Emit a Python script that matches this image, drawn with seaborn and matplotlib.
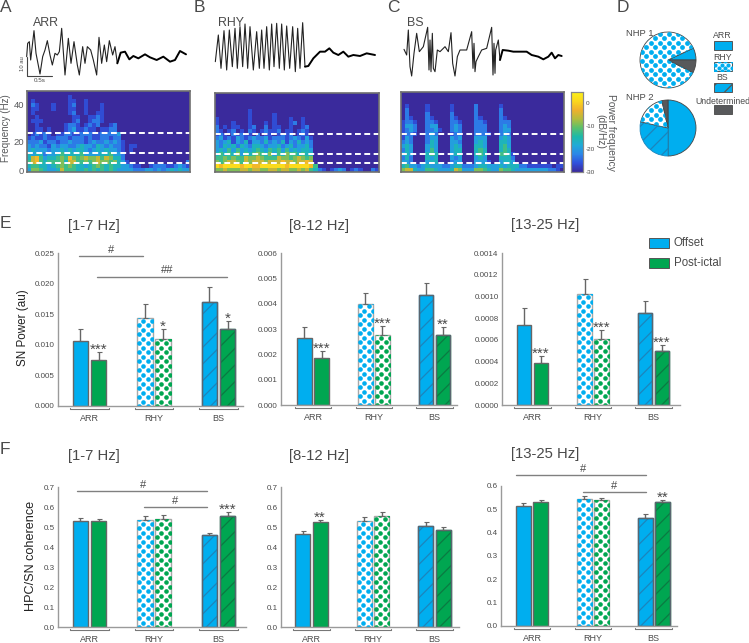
#!/usr/bin/env python
"""
Seizure states figure: LFP traces, spectrograms, state pies and band power bars
"""

import numpy as np
import pandas as pd
import matplotlib
matplotlib.use('Agg')
import matplotlib.pyplot as plt
import matplotlib.transforms as mtransforms
from matplotlib.colors import LinearSegmentedColormap
from matplotlib.patches import Rectangle
import seaborn as sns

W, H = 749, 643
BLUE = '#00AEEF'
GREEN = '#00A651'
HATCH_BLUE = '#1C85BC'
HATCH_GREEN = '#0B7A42'
GREY = '#58595B'
TEXT = '#4A4A4A'

states = ['ARR', 'RHY', 'BS']

# band power (E) and coherence (F): ARR, RHY, BS
e1_offset = [0.0107, 0.01435, 0.01703]
e1_post = [0.0075, 0.0109, 0.01255]
e1_offset_sem = [0.00185, 0.0023, 0.0024]
e1_post_sem = [0.0013, 0.00176, 0.00131]
e1_stars = ['***', '*', '*']

e2_offset = [0.00264, 0.00398, 0.00433]
e2_post = [0.00187, 0.00277, 0.00276]
e2_offset_sem = [0.00045, 0.00046, 0.0005]
e2_post_sem = [0.00028, 0.00034, 0.00033]
e2_stars = ['***', '***', '**']

e3_offset = [0.00074, 0.00102, 0.00085]
e3_post = [0.00039, 0.00061, 0.0005]
e3_offset_sem = [0.00015, 0.00014, 0.00011]
e3_post_sem = [0.00006, 0.00008, 0.00005]
e3_stars = ['***', '***', '***']

f1_offset = [0.53, 0.535, 0.46]
f1_post = [0.53, 0.54, 0.557]
f1_offset_sem = [0.013, 0.02, 0.01]
f1_post_sem = [0.01, 0.02, 0.02]
f1_stars = ['', '', '***']

f2_offset = [0.467, 0.528, 0.503]
f2_post = [0.523, 0.553, 0.483]
f2_offset_sem = [0.011, 0.022, 0.022]
f2_post_sem = [0.014, 0.022, 0.017]
f2_stars = ['**', '', '']

f3_offset = [0.513, 0.543, 0.461]
f3_post = [0.531, 0.539, 0.53]
f3_offset_sem = [0.013, 0.013, 0.018]
f3_post_sem = [0.009, 0.011, 0.009]
f3_stars = ['', '', '**']

# pies, share of seizures
nhp1_shares = [7, 85.5, 7.5]       # ARR, RHY, undetermined
nhp2_shares = [50, 28.5, 18, 3.5]  # ARR, BS, RHY, undetermined

# traces, digitised in thirds of a pixel
arr_x = [80, 83, 88, 92, 102, 108, 120, 128, 135, 142, 150, 157, 165, 172, 178, 185, 195, 205, 213, 222, 232, 238,
         248, 255, 262, 272, 280, 290, 297, 305, 313, 320, 328, 338, 345, 352]
arr_y = [170, 130, 125, 180, 92, 160, 222, 170, 150, 122, 165, 195, 160, 165, 155, 85, 225, 115, 190, 125, 195, 225,
         140, 190, 140, 150, 180, 225, 112, 190, 135, 185, 122, 165, 140, 190]
arr_tail_x = [352, 362, 375, 388, 400, 415, 435, 450, 470, 490, 510, 525, 540, 558]
arr_tail_y = [190, 158, 155, 178, 168, 175, 163, 172, 180, 170, 185, 180, 153, 163]

rhy_x = [646, 655, 663, 672, 680, 688, 697, 705, 712, 720, 728, 735, 743, 750, 760, 770, 778, 785, 792, 800, 808,
         815, 822, 830, 838, 845, 853, 860, 869, 878, 886, 893, 900, 908, 915]
rhy_y = [185, 105, 205, 92, 210, 90, 200, 85, 205, 80, 200, 72, 205, 80, 210, 95, 205, 90, 205, 80, 210, 72, 200,
         70, 205, 72, 210, 78, 205, 80, 215, 85, 205, 68, 200]
rhy_tail_x = [915, 925, 940, 960, 975, 988, 1000, 1015, 1030, 1045, 1060, 1080, 1100, 1125]
rhy_tail_y = [200, 198, 175, 155, 155, 145, 158, 165, 155, 170, 165, 168, 160, 165]

bs_x = [72, 80, 85, 90, 95, 102, 110, 118, 130, 143, 147, 150, 153, 157, 160, 165, 172, 180, 195, 205, 213, 218, 225,
        232, 240, 260, 275, 279, 282, 285, 288, 295, 305, 320, 335, 339, 342, 345, 347, 355, 360]
bs_y = [148, 165, 90, 200, 228, 160, 100, 155, 140, 82, 210, 120, 215, 100, 205, 215, 150, 155, 140, 155, 98, 190, 228,
        170, 150, 150, 95, 205, 130, 215, 185, 170, 150, 145, 82, 225, 130, 220, 150, 120, 180]
bs_tail_x = [360, 368, 385, 400, 420, 440, 455, 475, 490, 505, 515, 525, 535, 545]
bs_tail_y = [180, 150, 152, 155, 155, 155, 165, 170, 178, 170, 158, 175, 165, 168]

# spectrograms, one string per frequency row (top row first), levels 0-9, right side padded with 0
arr_spec = [
    "",
    "0000000000100000",
    "0100000000110010",
    "0210001000120010001",
    "0110001000110010001",
    "0100000000120010011",
    "0010000000011001121",
    "0111000000012001221",
    "0010000001221012120012",
    "0011010001231121101122",
    "01212101122112221122223",
    "12112112221222121122122",
    "222312212232221232232321",
    "3232213233223433243232210110",
    "3433323343434432343433210100",
    "4344233454444533334453320",
    "4785344565865676675764420",
    "5785455564775565676656431000000000000002",
    "4554434565654434565454433211001222112321",
    "3665433475554454545454333322233232343433",
]
rhy_spec = [
    "",
    "",
    "",
    "",
    "0000000010000000000",
    "00000000100000100",
    "10000000100000100010010",
    "10001000100010100012010",
    "20101100120020110010012",
    "21012010210121120110121",
    "12102121102011012120121",
    "231213212322312221232131",
    "323413241332423241324232",
    "324342432443233423423342",
    "343535343454354535343443",
    "454546354565463546554544",
    "556565576676555766567656",
    "656776576777677787767787",
    "9899998998899999989999985",
    "6676667767766776776676754210123201210021",
]
bs_spec = [
    "",
    "",
    "",
    "01000010000010000020000010",
    "02000010000010000020000020",
    "02000020000020000020000020",
    "02100021000021000021000021",
    "12210022100022100022100022200",
    "13320023300023200022200023200",
    "12320022310023200022200023300",
    "12210023200012200022210023200",
    "13200023300032300033300034300",
    "23200024300033200034300044300",
    "34300034300034300044300045300",
    "24300035300034400045400045400",
    "34300045400034400045400055410",
    "24200043400032300034300044420",
    "33200034400023300033310034430",
    "4533234333223442223443334344422111111011",
    "6774335543334763336654336554333333332210",
]

band_edges = [6, 12, 25]


def ax_px(x0, y_top, x1, y_bot, **kwargs):
    """Axes from pixel box, y counted from the top of the figure"""
    return fig.add_axes([x0 / W, 1 - y_bot / H, (x1 - x0) / W, (y_bot - y_top) / H], **kwargs)


def dot_fill(ax, patch, color, spacing=9, size=11):
    """Polka dots clipped to a patch, since the built-in hatches are too small"""
    box = patch.get_window_extent()
    rows = np.arange(box.y0 - spacing, box.y1 + spacing, spacing / 2)
    xs, ys = [], []
    for i, y in enumerate(rows):
        start = box.x0 + spacing * 0.2 + (spacing / 2 if i % 2 else 0) - spacing
        for x in np.arange(start, box.x1 + spacing, spacing):
            xs.append(x)
            ys.append(y)
    dots = ax.scatter(xs, ys, s=size, color=color, linewidths=0,
                      transform=mtransforms.IdentityTransform(), zorder=patch.get_zorder() + 0.1)
    dots.set_clip_path(patch)


def style_bar(ax, bar, state, color):
    bar.set_linewidth(1)
    if state == 'RHY':
        bar.set_facecolor('white')
        bar.set_edgecolor('#A8A8A8')
        dot_fill(ax, bar, color)
    elif state == 'BS':
        # hatch takes the edge colour, so the outline goes on top
        bar.set_facecolor(color)
        bar.set_edgecolor(HATCH_BLUE if color == BLUE else HATCH_GREEN)
        bar.set_hatch('//')
        ax.add_patch(Rectangle(bar.get_xy(), bar.get_width(), bar.get_height(), fill=False,
                               edgecolor='#5A6670', linewidth=1, zorder=bar.get_zorder() + 0.1))
    else:
        bar.set_facecolor(color)
        bar.set_edgecolor('#666666')


def band_panel(box, centers, offset, post, offset_sem, post_sem, stars, ymax, step, fmt, star_pad=1.5):
    """One bar panel: Offset and Post-ictal bars for each state"""
    x0, y_top, x1, y_bot = box
    ax = ax_px(x0, y_top, x1, y_bot)
    df = pd.DataFrame({
        'state': states * 2,
        'phase': ['Offset'] * 3 + ['Post-ictal'] * 3,
        'value': offset + post,
    })
    sns.barplot(data=df, x='state', y='value', hue='phase', order=states, palette=[BLUE, GREEN],
                width=0.56, gap=0.13, errorbar=None, legend=False, ax=ax)

    spacing = (centers[2] - centers[0]) / 2
    ax.set_xlim((x0 - centers[0]) / spacing, (x1 - centers[0]) / spacing)
    ax.set_ylim(0, ymax)
    ax.set_xlabel('')
    ax.set_ylabel('')
    ax.set_yticks(np.arange(0, ymax + step / 2, step))
    ax.set_yticklabels([fmt % v for v in np.arange(0, ymax + step / 2, step)], fontsize=5.8, color=TEXT)
    ax.tick_params(axis='y', length=2, width=0.7, pad=0.5, color='#888888')
    ax.tick_params(axis='x', length=0, pad=6, labelsize=6.5, labelcolor=TEXT)
    sns.despine(ax=ax)
    for side in ['left', 'bottom']:
        ax.spines[side].set_color('#9A9A9A')
        ax.spines[side].set_linewidth(1)

    for container, color, sems, marks in zip(ax.containers, [BLUE, GREEN], [offset_sem, post_sem],
                                             [[''] * 3, stars]):
        for bar, state, sem, mark in zip(container, states, sems, marks):
            style_bar(ax, bar, state, color)
            xc = bar.get_x() + bar.get_width() / 2
            top = bar.get_height()
            ax.errorbar([xc], [top], yerr=[[0], [sem]], fmt='none', ecolor='#666666',
                        elinewidth=1, capsize=1.8, capthick=0.8, zorder=5)
            if mark:
                ax.annotate(mark, (xc, top + sem), xytext=(0, star_pad), textcoords='offset points',
                            ha='center', va='center', fontsize=11, color=TEXT, annotation_clip=False)

    # brackets under each state
    trans = ax.get_xaxis_transform()
    drop = 3.4 / (y_bot - y_top)
    rise = 1.6 / (y_bot - y_top)
    for i in range(3):
        ax.plot([i - 0.3, i - 0.3, i + 0.3, i + 0.3], [-rise, -drop, -drop, -rise], transform=trans,
                color='#777777', lw=0.8, clip_on=False)
    return ax


def sig_line(ax, start, end, y, mark, xtext):
    ax.plot([start, end], [y, y], color='#808080', lw=1, clip_on=False)
    ax.annotate(mark, (xtext, y), xytext=(0, 1), textcoords='offset points', ha='center', va='bottom',
                fontsize=8, color=TEXT, annotation_clip=False)


def spec_panel(box, rows, cbar_ax=None):
    x0, y_top, x1, y_bot = box
    ax = ax_px(x0, y_top, x1, y_bot)
    levels = [[int(c) for c in row.ljust(40, '0')[:40]] for row in rows]
    db = -30 + 3.5 * np.array(levels, dtype=float)
    sns.heatmap(db, vmin=-30, vmax=5, cmap=spec_cmap, xticklabels=False, yticklabels=False,
                cbar=cbar_ax is not None, cbar_ax=cbar_ax, ax=ax)
    for side in ax.spines:
        ax.spines[side].set_visible(True)
        ax.spines[side].set_color('#707070')
        ax.spines[side].set_linewidth(1.2)
    for f in band_edges:
        ax.axhline((52 - f) / 52 * 20, color='white', lw=1.4, ls=(0, (3, 1.8)))
    return ax


plt.style.use('default')
sns.set_theme(style='white')
plt.rcParams['font.family'] = ['Liberation Sans', 'DejaVu Sans']
plt.rcParams['hatch.linewidth'] = 0.9

fig = plt.figure(figsize=(W / 100, H / 100), dpi=100)

page = ax_px(0, 0, W, H, zorder=10)
page.set_xlim(0, W)
page.set_ylim(H, 0)
page.axis('off')
page.patch.set_alpha(0)

# traces
trace_ax = ax_px(0, 0, W, 88)
trace_ax.set_xlim(0, W * 3)
trace_ax.set_ylim(88 * 3, 0)
trace_ax.axis('off')
for xs, ys, tail_x, tail_y, shift in [(arr_x, arr_y, arr_tail_x, arr_tail_y, 0),
                                      (rhy_x, rhy_y, rhy_tail_x, rhy_tail_y, 0),
                                      (bs_x, bs_y, bs_tail_x, bs_tail_y, 1140)]:
    sns.lineplot(x=np.array(xs) + shift, y=ys, sort=False, estimator=None, color='#222222', lw=0.8, ax=trace_ax)
    sns.lineplot(x=np.array(tail_x) + shift, y=tail_y, sort=False, estimator=None, color='black', lw=1.4, ax=trace_ax)

# scale bar of trace A
trace_ax.plot([80, 80, 155], [170, 228, 228], color='#444444', lw=0.8)
page.text(23, 64, '10 au', rotation=90, ha='center', va='center', fontsize=4.2, color=TEXT)
page.text(39.5, 80.5, '0.5s', ha='center', va='center', fontsize=4.5, color=TEXT)

# spectrograms
spec_cmap = LinearSegmentedColormap.from_list('spec', [
    '#3A2A9C', '#2F50DC', '#2B86E8', '#1FAAD8', '#1DB9A8', '#5CC06A', '#B4BC3C', '#F0B02C', '#FBD81C', '#FBF018'])
cbar_ax = ax_px(571, 92, 583, 172)
spec_a = spec_panel((27, 91, 190, 172), arr_spec)
spec_b = spec_panel((215, 93, 379, 172), rhy_spec)
spec_c = spec_panel((401, 92, 564, 172), bs_spec, cbar_ax=cbar_ax)

spec_a.set_yticks([3.25, 12.5, 19.75])
spec_a.set_yticklabels(['40', '20', '0'], rotation=0, fontsize=6.8, color=GREY)
spec_a.tick_params(axis='y', length=0, pad=2, left=False)
cbar_ax.set_yticks([0, -10, -20, -30])
cbar_ax.set_yticklabels(['0', '-10', '-20', '-30'], fontsize=4.6, color=TEXT)
cbar_ax.tick_params(axis='y', length=0, pad=2)
for side in cbar_ax.spines:
    cbar_ax.spines[side].set_visible(True)
    cbar_ax.spines[side].set_color('#888888')
    cbar_ax.spines[side].set_linewidth(0.8)
page.text(6, 128, 'Frequency (Hz)', rotation=90, ha='center', va='center', fontsize=7.1, color=GREY)
page.text(611, 132, 'Power frequency', rotation=270, ha='center', va='center', fontsize=7.4, color=GREY)
page.text(600, 132, '(dB/Hz)', rotation=270, ha='center', va='center', fontsize=7.4, color=GREY)

# pies
pie1 = ax_px(640, 32, 696, 88)
wedges1, _ = pie1.pie(nhp1_shares, colors=[BLUE, 'white', GREY], startangle=0, radius=1,
                      wedgeprops={'edgecolor': '#444444', 'linewidth': 0.6})
pie1.set_xlim(-1, 1)
pie1.set_ylim(-1, 1)
dot_fill(pie1, wedges1[1], BLUE, spacing=9, size=12)

pie2 = ax_px(640, 100, 696, 156)
wedges2, _ = pie2.pie(nhp2_shares, colors=[BLUE, BLUE, 'white', GREY], startangle=90, counterclock=False, radius=1,
                      wedgeprops={'edgecolor': '#444444', 'linewidth': 0.6})
pie2.set_xlim(-1, 1)
pie2.set_ylim(-1, 1)
wedges2[1].set_hatch('//')
wedges2[1].set_edgecolor(HATCH_BLUE)
dot_fill(pie2, wedges2[2], BLUE, spacing=9, size=12)
for ax in [pie1, pie2]:
    for w in ax.patches:
        w.set_clip_on(False)

page.text(626, 33, 'NHP 1', ha='left', va='center', fontsize=6.8, color=TEXT)
page.text(626, 97, 'NHP 2', ha='left', va='center', fontsize=6.8, color=TEXT)
for label, y_text, y_box, face, hatch in [('ARR', 36, 41, BLUE, None), ('RHY', 57, 62, 'white', None),
                                          ('BS', 77, 83, BLUE, '//'), ('Undetermined', 101, 105, GREY, None)]:
    page.text(722.5, y_text, label, ha='center', va='center', fontsize=6.3, color=TEXT)
    swatch = Rectangle((714, y_box), 18, 9, facecolor=face, edgecolor='#555555', linewidth=0.7, hatch=hatch)
    page.add_patch(swatch)
    if label == 'RHY':
        dot_fill(page, swatch, BLUE, spacing=6.5, size=9)

# band panels
e1 = band_panel((58, 253, 243, 406), [89.5, 154, 218.5], e1_offset, e1_post, e1_offset_sem, e1_post_sem,
                e1_stars, 0.025, 0.005, '%.3f')
e2 = band_panel((281, 253, 457, 405), [313, 373.5, 434.5], e2_offset, e2_post, e2_offset_sem, e2_post_sem,
                e2_stars, 0.006, 0.001, '%.3f')
e3 = band_panel((502, 253, 680, 405), [532.5, 593.5, 653.5], e3_offset, e3_post, e3_offset_sem, e3_post_sem,
                e3_stars, 0.0014, 0.0002, '%.4f')
f1 = band_panel((58, 487, 246, 627), [89.5, 154, 218.5], f1_offset, f1_post, f1_offset_sem, f1_post_sem,
                f1_stars, 0.7, 0.1, '%.1f')
f2 = band_panel((281, 487, 459, 627), [311.5, 373.5, 434.5], f2_offset, f2_post, f2_offset_sem, f2_post_sem,
                f2_stars, 0.7, 0.1, '%.1f')
f3 = band_panel((501, 486, 677, 626), [532, 593, 653.7], f3_offset, f3_post, f3_offset_sem, f3_post_sem,
                f3_stars, 0.6, 0.1, '%.1f')

sig_line(e1, -0.16, 0.83, 0.02445, '#', 0.33)
sig_line(e1, 0.12, 2.13, 0.0211, '##', 1.2)
sig_line(f1, -0.19, 1.82, 0.68, '#', 0.83)
sig_line(f1, 0.84, 1.82, 0.60, '#', 1.33)
sig_line(f3, -0.26, 1.87, 0.647, '#', 0.84)
sig_line(f3, 0.84, 1.87, 0.574, '#', 1.35)

# legend of the bars
for label, y_box, face in [('Offset', 238, BLUE), ('Post-ictal', 257.5, GREEN)]:
    page.add_patch(Rectangle((649, y_box), 20, 10, facecolor=face, edgecolor='#555555', linewidth=0.7))
    page.text(674, y_box + 5, label, ha='left', va='center', fontsize=8.3, color=TEXT)

# all the free text
for letter, x, y in [('A', 0, 7), ('B', 194, 7), ('C', 387, 7), ('D', 617, 7), ('E', 0, 223), ('F', 0, 450)]:
    page.text(x, y, letter, ha='left', va='center', fontsize=12.5, color=TEXT)
for label, x in [('ARR', 33), ('RHY', 218), ('BS', 407)]:
    page.text(x, 23, label, ha='left', va='center', fontsize=8.9, color=TEXT)
for label, x, y_e, y_f in [('[1-7 Hz]', 68, 226, 456), ('[8-12 Hz]', 289, 226, 456), ('[13-25 Hz]', 511, 225, 454)]:
    page.text(x, y_e, label, ha='left', va='center', fontsize=10.7, color=TEXT)
    page.text(x, y_f, label, ha='left', va='center', fontsize=10.7, color=TEXT)
page.text(23, 328, 'SN Power (au)', rotation=90, ha='center', va='center', fontsize=8.4, color='#222222')
page.text(31, 556, 'HPC/SN coherence', rotation=90, ha='center', va='center', fontsize=9.1, color='#222222')

fig.savefig('out.png', dpi=100)
